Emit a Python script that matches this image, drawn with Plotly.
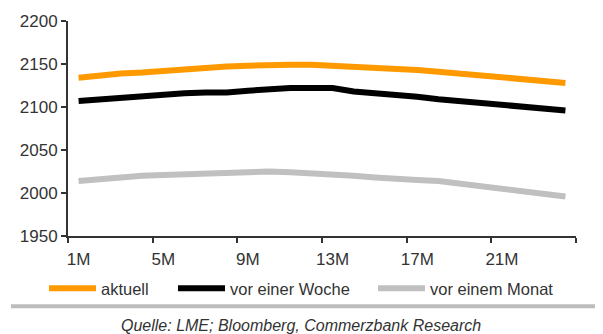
import plotly.graph_objects as go

months = [f"{i}M" for i in range(1, 25)]
x_pos = list(range(1, 25))
aktuell = [2134, 2137, 2139, 2140, 2142, 2144, 2146, 2147, 2148, 2149, 2149, 2149,
           2148, 2147, 2146, 2145, 2143, 2141, 2139, 2137, 2135, 2132, 2130, 2128]
woche = [2107, 2109, 2110, 2112, 2115, 2116, 2117, 2117, 2119, 2121, 2122, 2122,
         2122, 2118, 2116, 2115, 2112, 2109, 2107, 2105, 2102, 2100, 2098, 2096]
monat = [2014, 2016, 2019, 2020, 2021, 2022, 2023, 2024, 2025, 2025, 2024, 2023,
         2021, 2020, 2018, 2016, 2015, 2014, 2011, 2008, 2005, 2002, 1999, 1996]
tick_labels = ["1M", "5M", "9M", "13M", "17M", "21M"]
tick_vals = [1, 5, 9, 13, 17, 21]
series_names = ["aktuell", "vor einer Woche", "vor einem Monat"]
colors = ["#FF9900", "#000000", "#C0C0C0"]

W, H = 603, 334
ML, MR, MT, MB = 68, 27, 19, 98
PW, PH = W - ML - MR, H - MT - MB


def px_x(p):
    return (p - ML) / PW


def px_y(p):
    return -(p - (H - MB)) / PH


fig = go.Figure()
legend_ids = ["legend", "legend2", "legend3"]
for name, vals, c, lg in zip(series_names, [aktuell, woche, monat], colors, legend_ids):
    fig.add_trace(go.Scatter(x=x_pos, y=vals, mode="lines", name=name, legend=lg,
                             line=dict(color=c, width=6)))

font = "Liberation Sans, Arial, sans-serif"
legend_left_px = [44, 173, 373]
legend_common = dict(orientation="h", yanchor="middle", y=px_y(289), xanchor="left",
                     font=dict(size=16.5, color="#333333"), itemwidth=47,
                     bgcolor="rgba(0,0,0,0)", borderwidth=0)
layout_legends = {}
for lg, lx in zip(legend_ids, legend_left_px):
    layout_legends[lg] = dict(legend_common, x=px_x(lx))

fig.update_layout(
    width=W, height=H,
    margin=dict(l=ML, r=MR, t=MT, b=MB),
    paper_bgcolor="white", plot_bgcolor="white",
    font=dict(family=font, size=16, color="#333333"),
    showlegend=True,
    xaxis=dict(range=[0.5, 24.5], tickmode="array", tickvals=tick_vals, ticktext=tick_labels,
               ticks="", showgrid=False, zeroline=False, ticklabelstandoff=7,
               showline=True, linecolor="#333333", linewidth=2,
               tickfont=dict(size=17, color="#333333"),
               minor=dict(tickmode="array", tickvals=[0.5 + 4 * k for k in range(7)],
                          ticks="outside", ticklen=5, tickwidth=2, tickcolor="#333333",
                          showgrid=False)),
    yaxis=dict(range=[1950, 2200], tickmode="array", tickvals=[1950, 2000, 2050, 2100, 2150, 2200],
               ticks="outside", ticklen=5, tickwidth=2, tickcolor="#333333",
               showgrid=False, zeroline=False, showline=True, linecolor="#333333", linewidth=2,
               tickfont=dict(size=17, color="#333333")),
    **layout_legends,
)

fig.add_shape(type="line", xref="paper", yref="paper", x0=px_x(11), x1=px_x(595),
              y0=px_y(307), y1=px_y(307), line=dict(color="#BDBDBD", width=4))
fig.add_annotation(text="<i>Quelle: LME; Bloomberg, Commerzbank Research</i>", xref="paper", yref="paper",
                   x=px_x(301), y=px_y(326), xanchor="center", yanchor="middle", showarrow=False,
                   font=dict(size=16, color="#333333"))

fig.write_html("out.html")
